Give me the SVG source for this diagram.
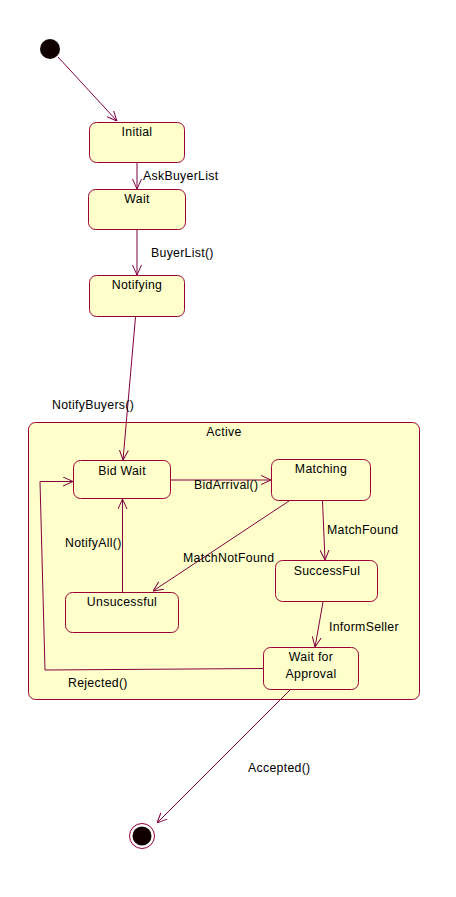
<svg xmlns="http://www.w3.org/2000/svg" width="456" height="897" viewBox="0 0 456 897">
<defs>
<style>
.st{fill:#FFFFCC;stroke:#990033;stroke-width:1}
.ln{fill:none;stroke:#800040;stroke-width:1}
text{font-family:"Liberation Sans",Arial,sans-serif;font-size:12.3px;letter-spacing:0.3px;fill:#000}
.c{text-anchor:middle}
</style>
<marker id="ah" viewBox="0 0 10 10" refX="10" refY="5" markerWidth="10" markerHeight="10" markerUnits="userSpaceOnUse" orient="auto">
<path d="M0,0.5 L10,5 L0,9.5" fill="none" stroke="#800040" stroke-width="1"/>
</marker>
</defs>
<rect width="456" height="897" fill="#fff"/>
<g id="active">
<rect class="st" x="28.5" y="422.5" width="391" height="277" rx="7"/>
<text class="c" x="224" y="436">Active</text>
</g>
<g id="start"><circle cx="50" cy="49" r="10" fill="#100000"/></g>
<g id="initial"><rect class="st" x="89.5" y="122.5" width="95" height="40" rx="7"/><text class="c" x="137" y="136">Initial</text></g>
<g id="wait"><rect class="st" x="88.5" y="189.5" width="97" height="40" rx="7"/><text class="c" x="137" y="203">Wait</text></g>
<g id="notifying"><rect class="st" x="89.5" y="275.5" width="95" height="41" rx="7"/><text class="c" x="137" y="289">Notifying</text></g>
<g id="bidwait"><rect class="st" x="73.5" y="460.5" width="97" height="38" rx="7"/><text class="c" x="122" y="475">Bid Wait</text></g>
<g id="matching"><rect class="st" x="271.5" y="459.5" width="99" height="41" rx="7"/><text class="c" x="321" y="473">Matching</text></g>
<g id="unsucessful"><rect class="st" x="65.5" y="592.5" width="113" height="40" rx="7"/><text class="c" x="122" y="606">Unsucessful</text></g>
<g id="successful"><rect class="st" x="275.5" y="560.5" width="102" height="41" rx="7"/><text class="c" x="327" y="575">SuccessFul</text></g>
<g id="waitapproval"><rect class="st" x="263.5" y="647.5" width="95" height="42" rx="7"/><text class="c" x="311" y="661">Wait for</text><text class="c" x="311" y="678">Approval</text></g>
<g id="final"><circle cx="142" cy="836" r="12.5" fill="#fff" stroke="#990033"/><circle cx="142" cy="836" r="9.5" fill="#100000"/></g>
<g id="connectors">
<line class="ln" x1="58" y1="57" x2="117" y2="121" marker-end="url(#ah)"/>
<line class="ln" x1="137" y1="163" x2="137" y2="189" marker-end="url(#ah)"/>
<text x="143" y="180">AskBuyerList</text>
<line class="ln" x1="137" y1="230" x2="137" y2="275" marker-end="url(#ah)"/>
<text x="151" y="257">BuyerList()</text>
<line class="ln" x1="135.5" y1="317" x2="123" y2="460" marker-end="url(#ah)"/>
<text x="52" y="409">NotifyBuyers()</text>
<line class="ln" x1="171" y1="480" x2="271" y2="480" marker-end="url(#ah)"/>
<text x="194" y="489">BidArrival()</text>
<line class="ln" x1="122.5" y1="592" x2="122.5" y2="499" marker-end="url(#ah)"/>
<text x="65" y="547">NotifyAll()</text>
<line class="ln" x1="289" y1="501" x2="153" y2="591" marker-end="url(#ah)"/>
<text x="183" y="562">MatchNotFound</text>
<line class="ln" x1="322.5" y1="501" x2="325" y2="560" marker-end="url(#ah)"/>
<text x="327" y="534">MatchFound</text>
<line class="ln" x1="323" y1="602" x2="315" y2="647" marker-end="url(#ah)"/>
<text x="329" y="631">InformSeller</text>
<polyline class="ln" points="263,668.5 45,670 40,481.5 73,481.5" marker-end="url(#ah)"/>
<text x="68" y="687">Rejected()</text>
<line class="ln" x1="290" y1="690" x2="157" y2="823" marker-end="url(#ah)"/>
<text x="248" y="772">Accepted()</text>
</g>
</svg>
